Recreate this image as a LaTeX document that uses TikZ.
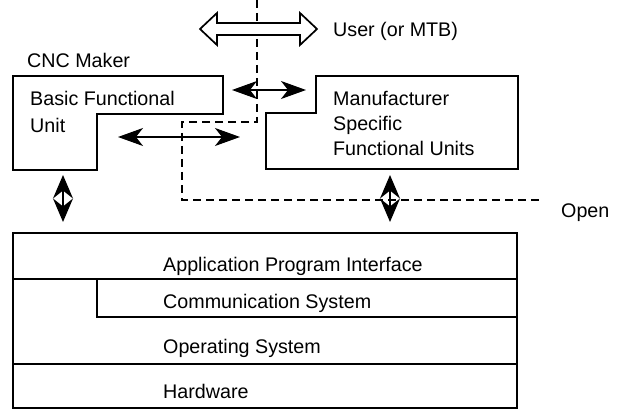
\documentclass[tikz,border=0pt]{standalone}
\usepackage{fontspec}
\setmainfont{Liberation Sans}
\usetikzlibrary{arrows.meta}
\begin{document}
\begin{tikzpicture}[x=1pt,y=-1pt,
  box/.style={line width=1.8pt},
  dashline/.style={line width=1.7pt,dash pattern=on 8pt off 5pt},
  lbl/.style={anchor=base west,inner sep=0pt,font=\fontsize{19.7}{23}\selectfont},
  smallarrow/.style={line width=1.2pt,{Stealth[length=25pt,width=18pt,inset=7pt]}-{Stealth[length=25pt,width=18pt,inset=7pt]}},
  vertarrow/.style={line width=1.2pt,{Stealth[length=23.5pt,width=20pt,inset=8pt]}-{Stealth[length=23.5pt,width=20pt,inset=8pt]}},
  hollow/.style={line width=1.7pt,fill=white}]
\useasboundingbox (0,0) rectangle (622,412);
% left L-shaped box
\draw[box] (13,76) -- (223,76) -- (223,114) -- (97,114) -- (97,170) -- (13,170) -- cycle;
% right L-shaped box
\draw[box] (316,76) -- (518,76) -- (518,169) -- (266,169) -- (266,113) -- (316,113) -- cycle;
% bottom stack
\draw[box] (13,233) rectangle (517,408);
\draw[box] (13,279) -- (517,279);
\draw[box] (97,279) -- (97,317) -- (517,317);
\draw[box] (13,364) -- (517,364);
% dashed boundary
\coordinate (d0) at (257,0);
\coordinate (d1) at (257,122);
\coordinate (d2) at (182,122);
\coordinate (d3) at (182,200);
\coordinate (d4) at (540,200);
\draw[dashline] (d0) -- (d1) -- (d2) -- (d3) -- (d4);
% hollow double arrow
\draw[hollow] (200,29) -- (217,13) -- (217,23) -- (300,23) -- (300,13) -- (317,29) -- (300,45) -- (300,35) -- (217,35) -- (217,45) -- cycle;
% labels
\node[lbl] (user) at (333,37) {User (or MTB)};
\node[lbl] (cnc) at (27,68) {CNC Maker};
\node[lbl] (bfu1) at (30,106) {Basic Functional};
\node[lbl] (bfu2) at (30,132) {Unit};
\node[lbl] (msf1) at (333,106) {Manufacturer};
\node[lbl] (msf2) at (333,131) {Specific};
\node[lbl] (msf3) at (333,156) {Functional Units};
\node[lbl] (open) at (561,217) {Open};
\node[lbl] (api) at (163,271) {Application Program Interface};
\node[lbl] (comm) at (163,308) {Communication System};
\node[lbl] (os) at (163,353) {Operating System};
\node[lbl] (hw) at (163,398) {Hardware};
% arrows
\coordinate (a1) at (232,90); \coordinate (a2) at (306,90);
\draw[smallarrow] (a1) -- (a2);
\coordinate (b1) at (118,137); \coordinate (b2) at (240,137);
\draw[smallarrow] (b1) -- (b2);
\coordinate (v1) at (63,175); \coordinate (v2) at (63,222);
\draw[vertarrow] (v1) -- (v2);
\coordinate (w1) at (390,175); \coordinate (w2) at (390,222);
\draw[vertarrow] (w1) -- (w2);
\end{tikzpicture}
\end{document}
